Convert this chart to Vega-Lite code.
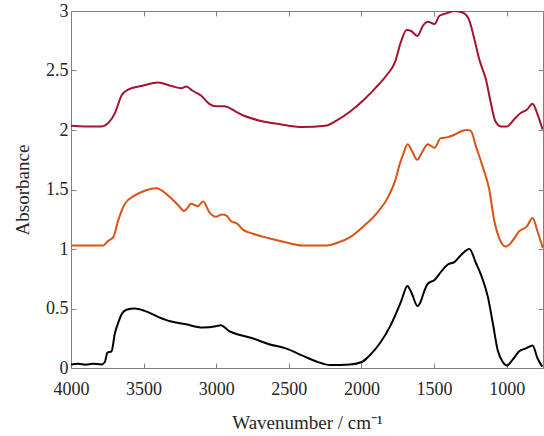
{
  "$schema": "https://vega.github.io/schema/vega-lite/v6.json",
  "autosize": "none",
  "width": 472,
  "height": 357,
  "padding": {"left": 71, "top": 11, "right": 1, "bottom": 68},
  "background": "white",
  "config": {
    "view": {"stroke": null},
    "font": "Liberation Serif",
    "style": {
      "guide-label": {"font": "Liberation Serif", "fontSize": 18},
      "guide-title": {"font": "Liberation Serif", "fontSize": 19, "fontWeight": "normal"}
    },
    "axis": {
      "labelFont": "Liberation Serif",
      "titleFont": "Liberation Serif",
      "labelFontSize": 18,
      "titleFontSize": 19,
      "titleFontWeight": "normal",
      "labelColor": "#262626",
      "titleColor": "#262626",
      "domainColor": "#808080",
      "tickColor": "#808080",
      "grid": false,
      "tickSize": -5,
      "labelPadding": 8,
      "labelFlush": false
    }
  },
  "data": {
    "values": [
      {"s": "a", "w": 4000, "v": 0.03}, {"s": "a", "w": 3950, "v": 0.035}, {"s": "a", "w": 3900, "v": 0.028}, {"s": "a", "w": 3850, "v": 0.036}, {"s": "a", "w": 3790, "v": 0.03},
      {"s": "a", "w": 3767, "v": 0.05}, {"s": "a", "w": 3749, "v": 0.13}, {"s": "a", "w": 3721, "v": 0.14}, {"s": "a", "w": 3698, "v": 0.29}, {"s": "a", "w": 3675, "v": 0.38},
      {"s": "a", "w": 3652, "v": 0.45}, {"s": "a", "w": 3618, "v": 0.49}, {"s": "a", "w": 3561, "v": 0.5}, {"s": "a", "w": 3492, "v": 0.48}, {"s": "a", "w": 3401, "v": 0.43},
      {"s": "a", "w": 3309, "v": 0.39}, {"s": "a", "w": 3217, "v": 0.37}, {"s": "a", "w": 3094, "v": 0.34}, {"s": "a", "w": 3002, "v": 0.35}, {"s": "a", "w": 2968, "v": 0.36},
      {"s": "a", "w": 2911, "v": 0.31}, {"s": "a", "w": 2843, "v": 0.28}, {"s": "a", "w": 2751, "v": 0.25}, {"s": "a", "w": 2637, "v": 0.2}, {"s": "a", "w": 2522, "v": 0.165},
      {"s": "a", "w": 2398, "v": 0.1}, {"s": "a", "w": 2307, "v": 0.053}, {"s": "a", "w": 2215, "v": 0.025}, {"s": "a", "w": 2078, "v": 0.03}, {"s": "a", "w": 1998, "v": 0.05},
      {"s": "a", "w": 1940, "v": 0.11}, {"s": "a", "w": 1872, "v": 0.21}, {"s": "a", "w": 1803, "v": 0.35}, {"s": "a", "w": 1758, "v": 0.47}, {"s": "a", "w": 1724, "v": 0.57},
      {"s": "a", "w": 1684, "v": 0.69}, {"s": "a", "w": 1655, "v": 0.63}, {"s": "a", "w": 1614, "v": 0.52}, {"s": "a", "w": 1588, "v": 0.57}, {"s": "a", "w": 1575, "v": 0.62},
      {"s": "a", "w": 1542, "v": 0.71}, {"s": "a", "w": 1497, "v": 0.74}, {"s": "a", "w": 1451, "v": 0.81}, {"s": "a", "w": 1405, "v": 0.87}, {"s": "a", "w": 1360, "v": 0.89},
      {"s": "a", "w": 1314, "v": 0.95}, {"s": "a", "w": 1257, "v": 1.0}, {"s": "a", "w": 1211, "v": 0.88}, {"s": "a", "w": 1176, "v": 0.78}, {"s": "a", "w": 1130, "v": 0.6},
      {"s": "a", "w": 1096, "v": 0.38}, {"s": "a", "w": 1062, "v": 0.15}, {"s": "a", "w": 1027, "v": 0.05}, {"s": "a", "w": 998, "v": 0.02}, {"s": "a", "w": 959, "v": 0.07},
      {"s": "a", "w": 914, "v": 0.14}, {"s": "a", "w": 867, "v": 0.165}, {"s": "a", "w": 822, "v": 0.19}, {"s": "a", "w": 787, "v": 0.08}, {"s": "a", "w": 755, "v": 0.01},

      {"s": "b", "w": 4000, "v": 1.03}, {"s": "b", "w": 3900, "v": 1.03}, {"s": "b", "w": 3778, "v": 1.03}, {"s": "b", "w": 3743, "v": 1.07}, {"s": "b", "w": 3709, "v": 1.1},
      {"s": "b", "w": 3675, "v": 1.24}, {"s": "b", "w": 3629, "v": 1.38}, {"s": "b", "w": 3561, "v": 1.45}, {"s": "b", "w": 3492, "v": 1.49}, {"s": "b", "w": 3412, "v": 1.51},
      {"s": "b", "w": 3332, "v": 1.45}, {"s": "b", "w": 3263, "v": 1.37}, {"s": "b", "w": 3222, "v": 1.32}, {"s": "b", "w": 3208, "v": 1.33}, {"s": "b", "w": 3174, "v": 1.38},
      {"s": "b", "w": 3128, "v": 1.36}, {"s": "b", "w": 3090, "v": 1.4}, {"s": "b", "w": 3048, "v": 1.31}, {"s": "b", "w": 3002, "v": 1.27}, {"s": "b", "w": 2961, "v": 1.29},
      {"s": "b", "w": 2929, "v": 1.28}, {"s": "b", "w": 2900, "v": 1.235}, {"s": "b", "w": 2853, "v": 1.21}, {"s": "b", "w": 2819, "v": 1.165}, {"s": "b", "w": 2751, "v": 1.13},
      {"s": "b", "w": 2637, "v": 1.09}, {"s": "b", "w": 2522, "v": 1.056}, {"s": "b", "w": 2407, "v": 1.03}, {"s": "b", "w": 2238, "v": 1.03}, {"s": "b", "w": 2170, "v": 1.05},
      {"s": "b", "w": 2078, "v": 1.1}, {"s": "b", "w": 1987, "v": 1.19}, {"s": "b", "w": 1895, "v": 1.3}, {"s": "b", "w": 1815, "v": 1.44}, {"s": "b", "w": 1769, "v": 1.57},
      {"s": "b", "w": 1735, "v": 1.72}, {"s": "b", "w": 1712, "v": 1.8}, {"s": "b", "w": 1682, "v": 1.88}, {"s": "b", "w": 1655, "v": 1.83}, {"s": "b", "w": 1616, "v": 1.75},
      {"s": "b", "w": 1588, "v": 1.8}, {"s": "b", "w": 1575, "v": 1.83}, {"s": "b", "w": 1542, "v": 1.88}, {"s": "b", "w": 1497, "v": 1.85}, {"s": "b", "w": 1456, "v": 1.93},
      {"s": "b", "w": 1405, "v": 1.94}, {"s": "b", "w": 1360, "v": 1.96}, {"s": "b", "w": 1314, "v": 1.99}, {"s": "b", "w": 1268, "v": 2.0}, {"s": "b", "w": 1245, "v": 1.99},
      {"s": "b", "w": 1211, "v": 1.86}, {"s": "b", "w": 1165, "v": 1.69}, {"s": "b", "w": 1120, "v": 1.5}, {"s": "b", "w": 1086, "v": 1.24}, {"s": "b", "w": 1051, "v": 1.09},
      {"s": "b", "w": 1005, "v": 1.02}, {"s": "b", "w": 959, "v": 1.07}, {"s": "b", "w": 914, "v": 1.15}, {"s": "b", "w": 861, "v": 1.19}, {"s": "b", "w": 822, "v": 1.26},
      {"s": "b", "w": 787, "v": 1.145}, {"s": "b", "w": 752, "v": 1.01},

      {"s": "c", "w": 4000, "v": 2.035}, {"s": "c", "w": 3904, "v": 2.03}, {"s": "c", "w": 3790, "v": 2.03}, {"s": "c", "w": 3743, "v": 2.06}, {"s": "c", "w": 3698, "v": 2.14},
      {"s": "c", "w": 3652, "v": 2.29}, {"s": "c", "w": 3607, "v": 2.34}, {"s": "c", "w": 3515, "v": 2.37}, {"s": "c", "w": 3401, "v": 2.4}, {"s": "c", "w": 3309, "v": 2.37},
      {"s": "c", "w": 3241, "v": 2.35}, {"s": "c", "w": 3206, "v": 2.365}, {"s": "c", "w": 3163, "v": 2.33}, {"s": "c", "w": 3105, "v": 2.29}, {"s": "c", "w": 3048, "v": 2.22},
      {"s": "c", "w": 3002, "v": 2.2}, {"s": "c", "w": 2945, "v": 2.2}, {"s": "c", "w": 2865, "v": 2.155}, {"s": "c", "w": 2808, "v": 2.12}, {"s": "c", "w": 2705, "v": 2.08},
      {"s": "c", "w": 2568, "v": 2.05}, {"s": "c", "w": 2407, "v": 2.025}, {"s": "c", "w": 2250, "v": 2.035}, {"s": "c", "w": 2170, "v": 2.08}, {"s": "c", "w": 2078, "v": 2.155},
      {"s": "c", "w": 1987, "v": 2.25}, {"s": "c", "w": 1906, "v": 2.35}, {"s": "c", "w": 1827, "v": 2.46}, {"s": "c", "w": 1769, "v": 2.57}, {"s": "c", "w": 1731, "v": 2.73},
      {"s": "c", "w": 1689, "v": 2.84}, {"s": "c", "w": 1655, "v": 2.83}, {"s": "c", "w": 1616, "v": 2.79}, {"s": "c", "w": 1575, "v": 2.88}, {"s": "c", "w": 1542, "v": 2.91},
      {"s": "c", "w": 1497, "v": 2.89}, {"s": "c", "w": 1463, "v": 2.96}, {"s": "c", "w": 1417, "v": 2.98}, {"s": "c", "w": 1360, "v": 3.0}, {"s": "c", "w": 1300, "v": 2.985},
      {"s": "c", "w": 1257, "v": 2.92}, {"s": "c", "w": 1222, "v": 2.76}, {"s": "c", "w": 1188, "v": 2.59}, {"s": "c", "w": 1142, "v": 2.42}, {"s": "c", "w": 1108, "v": 2.22},
      {"s": "c", "w": 1080, "v": 2.08}, {"s": "c", "w": 1039, "v": 2.03}, {"s": "c", "w": 998, "v": 2.03}, {"s": "c", "w": 948, "v": 2.09}, {"s": "c", "w": 902, "v": 2.145},
      {"s": "c", "w": 861, "v": 2.17}, {"s": "c", "w": 822, "v": 2.22}, {"s": "c", "w": 787, "v": 2.13}, {"s": "c", "w": 753, "v": 2.005}
    ]
  },
  "resolve": {"axis": {"x": "independent", "y": "independent"}},
  "layer": [
    {
      "mark": {"type": "line", "strokeWidth": 2, "interpolate": "monotone", "clip": true},
      "encoding": {
        "x": {
          "field": "w", "type": "quantitative",
          "scale": {"domain": [750, 4000], "reverse": true, "nice": false, "zero": false},
          "axis": {"values": [4000, 3500, 3000, 2500, 2000, 1500, 1000], "format": "d", "title": "Wavenumber / cm⁻¹", "labelPadding": 17, "titlePadding": 15, "labelFont": "Liberation Serif", "titleFont": "Liberation Serif"}
        },
        "y": {
          "field": "v", "type": "quantitative",
          "scale": {"domain": [0, 3], "nice": false, "zero": false},
          "axis": {"values": [0, 0.5, 1, 1.5, 2, 2.5, 3], "format": "~g", "title": "Absorbance", "titlePadding": 13, "labelFont": "Liberation Serif", "titleFont": "Liberation Serif"}
        },
        "color": {
          "field": "s", "type": "nominal",
          "scale": {"domain": ["a", "b", "c"], "range": ["#000000", "#D95319", "#A2142F"]},
          "legend": null
        },
        "detail": {"field": "s"}
      }
    },
    {
      "mark": {"type": "line", "opacity": 0},
      "encoding": {
        "x": {
          "field": "w", "type": "quantitative",
          "scale": {"domain": [750, 4000], "reverse": true, "nice": false, "zero": false},
          "axis": {"orient": "top", "values": [4000, 3500, 3000, 2500, 2000, 1500, 1000], "labels": false, "title": null}
        },
        "y": {
          "field": "v", "type": "quantitative",
          "scale": {"domain": [0, 3], "nice": false, "zero": false},
          "axis": {"orient": "right", "values": [0, 0.5, 1, 1.5, 2, 2.5, 3], "labels": false, "title": null}
        },
        "detail": {"field": "s"}
      }
    }
  ]
}
